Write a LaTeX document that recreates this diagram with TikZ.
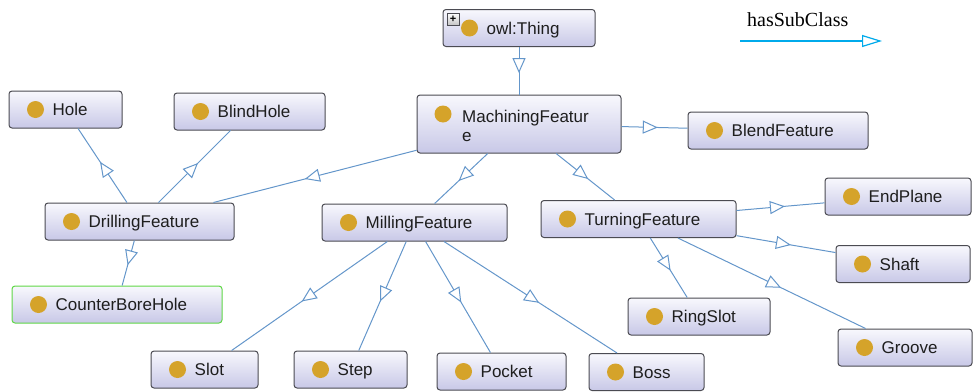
\documentclass[tikz,border=0pt]{standalone}
\usepackage{fontspec}
\setmainfont{Liberation Sans}
\newfontfamily\legendfont{Liberation Serif}
\usetikzlibrary{arrows.meta,decorations.markings}

\definecolor{edgecol}{RGB}{100,150,202}
\definecolor{nodeline}{RGB}{75,75,82}
\definecolor{nodetop}{RGB}{248,248,253}
\definecolor{nodebot}{RGB}{200,200,231}
\definecolor{dotcol}{RGB}{213,163,42}
\definecolor{greenline}{RGB}{95,215,70}
\definecolor{legendcol}{RGB}{0,170,235}
\definecolor{txtcol}{RGB}{30,30,30}

\tikzset{
  clsbox/.style={rectangle, rounded corners=3pt, line width=1pt,
    top color=nodetop, bottom color=nodebot, minimum height=37pt, inner sep=0pt},
  clsdot/.style={circle, fill=dotcol, minimum size=17pt, inner sep=0pt},
  clstext/.style={text=txtcol, inner sep=0pt, font=\fontsize{17}{20}\selectfont},
  plusbox/.style={rectangle, draw=nodeline, line width=0.6pt, top color=white,
    bottom color=gray!45, minimum size=12pt, inner sep=0pt,
    font=\bfseries\fontsize{11}{11}\selectfont},
  sub/.style={draw=edgecol, line width=1pt, postaction={decorate},
    decoration={markings, mark=at position 0.55 with
      {\arrow{Triangle[length=15pt,width=13pt,fill=white,line width=1pt]}}}},
}

% class box: [border colour]{name}{centre}{width}{label}
\newcommand\ontocls[5][nodeline]{%
  \node[clsbox, draw=#1, minimum width=#4] (#2) at (#3) {};
  \node[clsdot] (#2-dot) at ([xshift=27pt]#2.west) {};
  \node[clstext, anchor=base west] (#2-t) at ([xshift=44pt,yshift=-6pt]#2.west) {#5};
}

\begin{document}
\begin{tikzpicture}[x=1pt,y=-1pt]
\useasboundingbox (0,0) rectangle (973,391);

% classes
\ontocls{thing}{519,28}{152}{owl:Thing}
\node[plusbox] (thing-plus) at (453,19) {+};

\node[clsbox, draw=nodeline, minimum width=204pt, minimum height=58pt] (mach) at (519,124) {};
\node[clsdot] (mach-dot) at (443,114) {};
\node[clstext, anchor=base west] (mach-t1) at (462,122) {MachiningFeatur};
\node[clstext, anchor=base west] (mach-t2) at (462,141) {e};

\ontocls{hole}{65.5,109.5}{113}{Hole}
\ontocls{blind}{249.5,111.5}{151}{BlindHole}
\ontocls{blend}{778,130.5}{180}{BlendFeature}
\ontocls{drill}{139.5,221.5}{189}{DrillingFeature}
\ontocls{mill}{414.5,222.5}{185}{MillingFeature}
\ontocls{turn}{638.5,219}{195}{TurningFeature}
\ontocls{endp}{898,196.5}{146}{EndPlane}
\ontocls{shaft}{903,264}{134}{Shaft}
\ontocls[greenline]{cbh}{117,304.5}{210}{CounterBoreHole}
\ontocls{ring}{699,316.5}{142}{RingSlot}
\ontocls{groove}{905,347.5}{134}{Groove}
\ontocls{slot}{204.5,369.5}{107}{Slot}
\ontocls{step}{350.5,369.5}{113}{Step}
\ontocls{pocket}{501.5,371.5}{129}{Pocket}
\ontocls{boss}{646.5,372}{115}{Boss}

% hasSubClass links
\draw[sub] (thing) -- (mach);
\draw[sub] (mach) -- (drill);
\draw[sub] (mach) -- (mill);
\draw[sub] (mach) -- (turn);
\draw[sub] (mach) -- (blend);
\draw[sub] (drill) -- (hole);
\draw[sub] (drill) -- (blind);
\draw[sub] (drill) -- (cbh);
\draw[sub] (mill) -- (slot);
\draw[sub] (mill) -- (step);
\draw[sub] (mill) -- (pocket);
\draw[sub] (mill) -- (boss);
\draw[sub] (turn) -- (endp);
\draw[sub] (turn) -- (shaft);
\draw[sub] (turn) -- (ring);
\draw[sub] (turn) -- (groove);

% legend
\node[anchor=base west, inner sep=0pt, text=black,
  font=\legendfont\fontsize{20}{22}\selectfont] (legend-t) at (747,26) {hasSubClass};
\coordinate (legend-a) at (740,41);
\coordinate (legend-b) at (882,41);
\draw[draw=legendcol, line width=1.2pt,
  -{Triangle[length=20pt,width=12pt,fill=white,line width=1.2pt]}] (legend-a) -- (legend-b);
\end{tikzpicture}
\end{document}
